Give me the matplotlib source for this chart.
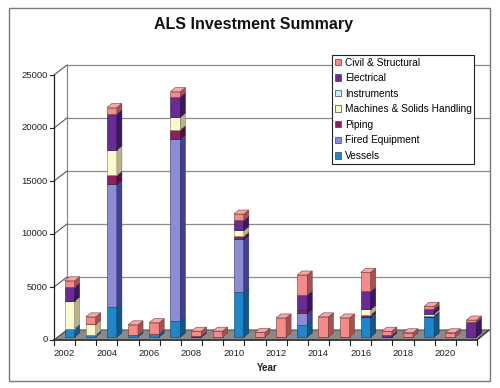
import matplotlib
matplotlib.use("Agg")
import matplotlib.pyplot as plt
from matplotlib.patches import Polygon, Rectangle, Patch
import matplotlib.colors as mcolors
import numpy as np

# ---------------- data ----------------
years = list(range(2002, 2022))
series_names = ["Vessels", "Fired Equipment", "Piping", "Machines & Solids Handling",
                "Instruments", "Electrical", "Civil & Structural"]
vessels     = [800, 200, 2800, 150, 300, 1500, 0, 0, 4200, 0, 0, 1150, 0, 0, 1900, 0, 0, 1900, 0, 0]
fired       = [0, 0, 11600, 0, 0, 17200, 0, 0, 5000, 0, 0, 1100, 0, 0, 0, 0, 0, 0, 0, 0]
piping      = [0, 0, 850, 0, 0, 850, 0, 0, 300, 0, 0, 300, 0, 0, 200, 0, 0, 100, 0, 0]
machines    = [2600, 1000, 2400, 0, 0, 1200, 0, 0, 550, 0, 0, 0, 0, 0, 500, 0, 0, 200, 0, 0]
instruments = [0] * 20
electrical  = [1300, 0, 3400, 0, 0, 1900, 100, 0, 950, 0, 0, 1400, 0, 0, 1700, 150, 0, 400, 0, 1400]
civil       = [600, 700, 600, 1000, 1050, 500, 450, 550, 600, 450, 1800, 1900, 1900, 1800, 1800, 400, 400, 300, 400, 200]
series_vals = [vessels, fired, piping, machines, instruments, electrical, civil]
front_colors = ["#1f87c9", "#8a8dd3", "#8b2060", "#fcf9cf", "#c6eef7", "#6a2c93", "#f38b8b"]
side_colors  = ["#13578a", "#3f4191", "#561038", "#b7b288", "#86aeb6", "#3a1760", "#a65050"]
top_colors   = ["#5fb0e0", "#aeb0e6", "#b05088", "#fffde6", "#e2f8fc", "#9460b8", "#f6a8a8"]
yticks = [0, 5000, 10000, 15000, 20000, 25000]
xtick_years = list(range(2002, 2022, 2))

# ---------------- layout (pixel based) ----------------
W, H = 500, 388
PX_X0, PX_Y0 = 54, 340          # front-left corner of floor
CAT_PX = 21.15                  # px per category
VAL_PX = 0.0106                 # px per value unit

def dxp(p):
    return p / CAT_PX

def dyp(p):
    return p / VAL_PX

fig = plt.figure(figsize=(W / 100, H / 100), dpi=100)
ax = fig.add_axes([0, 0, 1, 1])
ax.set_xlim(-PX_X0 / CAT_PX, (W - PX_X0) / CAT_PX)
ax.set_ylim(-(H - PX_Y0) / VAL_PX, PX_Y0 / VAL_PX)
ax.axis("off")

n = len(years)
ymax = yticks[-1]
back_left = dxp(13)
back_right = n + dxp(12)
back_y0 = dyp(10)

def back_y(v):
    return back_y0 + v

def front_y(v):
    return v

# outer border
fig.patches.append(Rectangle((9 / W, 1 - 381 / H), (490 - 9) / W, (381 - 8) / H,
                             transform=fig.transFigure, fill=False,
                             edgecolor="#7a7a7a", lw=1.0, zorder=0))

# back wall gridlines
for v in yticks:
    ax.plot([back_left, back_right], [back_y(v), back_y(v)], color="#8c8c8c", lw=0.9, zorder=1)
# left wall
ax.plot([back_left, back_left], [back_y(0), back_y(ymax)], color="#8c8c8c", lw=0.9, zorder=1)
for v in yticks:
    ax.plot([0, back_left], [front_y(v), back_y(v)], color="#555555", lw=0.8, zorder=1)
ax.plot([0, 0], [front_y(0), front_y(ymax)], color="#222222", lw=0.9, zorder=2)
for v in yticks:
    ax.plot([-dxp(4), 0], [front_y(v), front_y(v)], color="#222222", lw=0.8, zorder=2)
    ax.text(-dxp(6), front_y(v), f"{v}", ha="right", va="center", fontsize=6.8,
            family="Liberation Sans", color="#222222")

# floor
floor = Polygon([(0, 0), (n, 0), (back_right, back_y(0)), (back_left, back_y(0))],
                closed=True, facecolor="#8a8a8a", edgecolor="#555555", lw=0.8, zorder=2)
ax.add_patch(floor)
ax.plot([0, n], [0, 0], color="#404040", lw=1.4, zorder=2)
ax.plot([n, back_right], [0, back_y(0)], color="#404040", lw=1.0, zorder=2)

# x ticks and labels
for k in range(n + 1):
    ax.plot([k, k], [0, -dyp(5)], color="#222222", lw=0.8, zorder=2)
for i, yr in enumerate(years):
    if yr in xtick_years:
        ax.text(i + 0.5, -dyp(13), str(yr), ha="center", va="center", fontsize=6.8,
                family="Liberation Sans", color="#222222")

# bars
off_x, off_y = dxp(5), dyp(3)
bw = dxp(10)
ddx, ddy = dxp(5), dyp(4)
xc = np.arange(n) + 0.5 + off_x
bottom = np.zeros(n)
for vals, fc, sc in zip(series_vals, front_colors, side_colors):
    vals = np.array(vals, dtype=float)
    ec = mcolors.to_hex(np.array(mcolors.to_rgb(sc)) * 0.7)
    ax.bar(xc, vals, width=bw, bottom=bottom + off_y, color=fc, edgecolor=ec,
           lw=0.4, zorder=3)
    for i in range(n):
        if vals[i] <= 0:
            continue
        b = bottom[i] + off_y
        t = b + vals[i]
        x1 = xc[i] + bw / 2
        ax.add_patch(Polygon([(x1, b), (x1 + ddx, b + ddy), (x1 + ddx, t + ddy), (x1, t)],
                             closed=True, facecolor=sc, edgecolor=ec, lw=0.4, zorder=3))
    bottom = bottom + vals

# top faces of topmost segment
for i in range(n):
    top_idx = max(j for j in range(len(series_vals)) if series_vals[j][i] > 0)
    t = bottom[i] + off_y
    x0 = xc[i] - bw / 2
    x1 = xc[i] + bw / 2
    ec = mcolors.to_hex(np.array(mcolors.to_rgb(side_colors[top_idx])) * 0.7)
    ax.add_patch(Polygon([(x0, t), (x1, t), (x1 + ddx, t + ddy), (x0 + ddx, t + ddy)],
                         closed=True, facecolor=top_colors[top_idx], edgecolor=ec,
                         lw=0.4, zorder=3))

# legend
handles = [Patch(facecolor=front_colors[j], edgecolor="#444444", lw=0.5,
                 label=series_names[j]) for j in range(len(series_names) - 1, -1, -1)]
leg = fig.legend(handles=handles, loc="upper left",
                 bbox_to_anchor=(332 / W, 1 - 55 / H),
                 prop={"family": "Liberation Sans", "size": 7.3},
                 frameon=True, fancybox=False, shadow=False, framealpha=1,
                 edgecolor="#222222", handlelength=0.6, handleheight=0.6,
                 handletextpad=0.4, labelspacing=0.55, borderpad=0.25,
                 borderaxespad=0)
leg.get_frame().set_linewidth(0.8)
leg.set_zorder(10)

# titles
fig.text(254 / W, 1 - 24 / H, "ALS Investment Summary", ha="center", va="center",
         fontsize=11.5, fontweight="bold", family="Liberation Sans", color="#111111")
fig.text(267 / W, 1 - 368 / H, "Year", ha="center", va="center",
         fontsize=7, fontweight="bold", family="Liberation Sans", color="#222222")

fig.savefig("out.png", dpi=100)
